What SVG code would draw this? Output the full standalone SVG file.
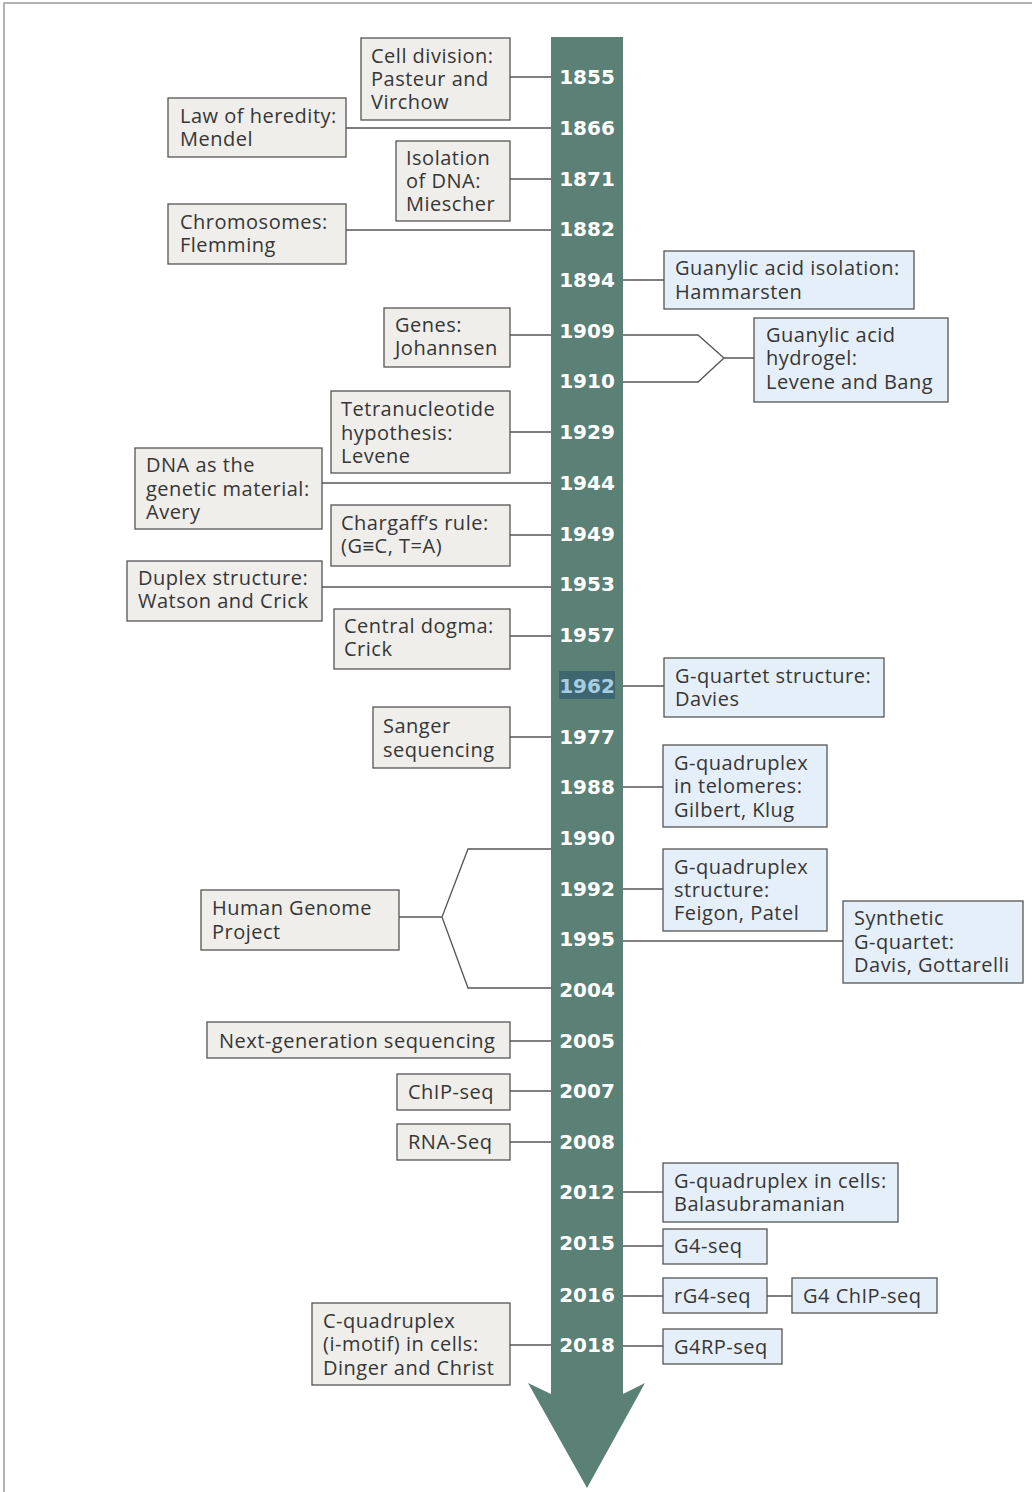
<svg xmlns="http://www.w3.org/2000/svg" width="1032" height="1492" viewBox="0 0 1032 1492">
<style>
.bg{fill:#ffffff}
.frame{fill:none;stroke:#9a9a9a;stroke-width:1.5}
.bar{fill:#5b8075}
.yr{font-family:"DejaVu Sans",sans-serif;font-weight:bold;font-size:20px;fill:#ffffff;text-anchor:middle}
.l{fill:#efeeeb;stroke:#555;stroke-width:1.3}
.r{fill:#e5eff9;stroke:#555;stroke-width:1.3}
.t{font-family:"Open Sans","Noto Sans",sans-serif;font-size:20px;letter-spacing:0.5px;fill:#363636}
.c{fill:none;stroke:#555;stroke-width:1.3}
</style>
<rect class="bg" x="0" y="0" width="1032" height="1492"/>
<path class="frame" d="M4,1492 V3 H1032"/>
<g id="timeline">
<path class="bar" d="M551,37 H623 V1394 L645,1383 L587,1488 L528,1383 L551,1394 Z"/>
<rect x="559" y="671" width="56" height="28" fill="#3e6670"/>
<g class="yr">
<text x="587" y="84">1855</text>
<text x="587" y="135">1866</text>
<text x="587" y="186">1871</text>
<text x="587" y="236">1882</text>
<text x="587" y="287">1894</text>
<text x="587" y="338">1909</text>
<text x="587" y="388">1910</text>
<text x="587" y="439">1929</text>
<text x="587" y="490">1944</text>
<text x="587" y="541">1949</text>
<text x="587" y="591">1953</text>
<text x="587" y="642">1957</text>
<text x="587" y="693" fill="#a8cde0">1962</text>
<text x="587" y="744">1977</text>
<text x="587" y="794">1988</text>
<text x="587" y="845">1990</text>
<text x="587" y="896">1992</text>
<text x="587" y="946">1995</text>
<text x="587" y="997">2004</text>
<text x="587" y="1048">2005</text>
<text x="587" y="1098">2007</text>
<text x="587" y="1149">2008</text>
<text x="587" y="1199">2012</text>
<text x="587" y="1250">2015</text>
<text x="587" y="1302">2016</text>
<text x="587" y="1352">2018</text>
</g>
</g>
<g id="connectors">
<path class="c" d="M510,77 H551"/>
<path class="c" d="M346,128 H551"/>
<path class="c" d="M510,179 H551"/>
<path class="c" d="M346,230 H551"/>
<path class="c" d="M623,280 H664"/>
<path class="c" d="M510,335 H551"/>
<path class="c" d="M623,335 H698 L724,358 L698,382 H623 M724,358 H754"/>
<path class="c" d="M510,432 H551"/>
<path class="c" d="M322,483 H551"/>
<path class="c" d="M510,535 H551"/>
<path class="c" d="M322,587 H551"/>
<path class="c" d="M510,636 H551"/>
<path class="c" d="M623,686 H664"/>
<path class="c" d="M510,737 H551"/>
<path class="c" d="M623,787 H663"/>
<path class="c" d="M551,849 H468 L442,917 L468,988 H551 M442,917 H399"/>
<path class="c" d="M623,889 H663"/>
<path class="c" d="M623,941 H843"/>
<path class="c" d="M510,1041 H551"/>
<path class="c" d="M510,1091 H551"/>
<path class="c" d="M510,1142 H551"/>
<path class="c" d="M623,1192 H663"/>
<path class="c" d="M623,1246 H663"/>
<path class="c" d="M623,1296 H663 M767,1296 H792"/>
<path class="c" d="M510,1345 H551"/>
<path class="c" d="M623,1346 H663"/>
</g>
<g id="n-celldivision"><rect class="l" x="361" y="38" width="149" height="82"/><text class="t"><tspan x="371" y="63">Cell division:</tspan><tspan x="371" y="86">Pasteur and</tspan><tspan x="371" y="109">Virchow</tspan></text></g>
<g id="n-heredity"><rect class="l" x="168" y="98" width="178" height="59"/><text class="t"><tspan x="180" y="123">Law of heredity:</tspan><tspan x="180" y="146">Mendel</tspan></text></g>
<g id="n-isolation"><rect class="l" x="396" y="141" width="114" height="80"/><text class="t"><tspan x="406" y="165">Isolation</tspan><tspan x="406" y="188">of DNA:</tspan><tspan x="406" y="211">Miescher</tspan></text></g>
<g id="n-chromosomes"><rect class="l" x="168" y="204" width="178" height="60"/><text class="t"><tspan x="180" y="229">Chromosomes:</tspan><tspan x="180" y="252">Flemming</tspan></text></g>
<g id="n-guanylic"><rect class="r" x="664" y="251" width="250" height="58"/><text class="t"><tspan x="675" y="275">Guanylic acid isolation:</tspan><tspan x="675" y="299">Hammarsten</tspan></text></g>
<g id="n-genes"><rect class="l" x="384" y="308" width="126" height="59"/><text class="t"><tspan x="395" y="332">Genes:</tspan><tspan x="395" y="355">Johannsen</tspan></text></g>
<g id="n-hydrogel"><rect class="r" x="754" y="318" width="194" height="84"/><text class="t"><tspan x="766" y="342">Guanylic acid</tspan><tspan x="766" y="365">hydrogel:</tspan><tspan x="766" y="389">Levene and Bang</tspan></text></g>
<g id="n-tetra"><rect class="l" x="331" y="391" width="179" height="82"/><text class="t"><tspan x="341" y="416">Tetranucleotide</tspan><tspan x="341" y="440">hypothesis:</tspan><tspan x="341" y="463">Levene</tspan></text></g>
<g id="n-avery"><rect class="l" x="135" y="448" width="187" height="81"/><text class="t"><tspan x="146" y="472">DNA as the</tspan><tspan x="146" y="496">genetic material:</tspan><tspan x="146" y="519">Avery</tspan></text></g>
<g id="n-chargaff"><rect class="l" x="331" y="505" width="179" height="61"/><text class="t"><tspan x="341" y="530">Chargaff’s rule:</tspan><tspan x="341" y="553">(G≡C, T=A)</tspan></text></g>
<g id="n-duplex"><rect class="l" x="127" y="561" width="195" height="60"/><text class="t"><tspan x="138" y="585">Duplex structure:</tspan><tspan x="138" y="608">Watson and Crick</tspan></text></g>
<g id="n-dogma"><rect class="l" x="334" y="609" width="176" height="60"/><text class="t"><tspan x="344" y="633">Central dogma:</tspan><tspan x="344" y="656">Crick</tspan></text></g>
<g id="n-gquartet"><rect class="r" x="664" y="658" width="220" height="59"/><text class="t"><tspan x="675" y="683">G-quartet structure:</tspan><tspan x="675" y="706">Davies</tspan></text></g>
<g id="n-sanger"><rect class="l" x="373" y="707" width="137" height="61"/><text class="t"><tspan x="383" y="733">Sanger</tspan><tspan x="383" y="757">sequencing</tspan></text></g>
<g id="n-telomeres"><rect class="r" x="663" y="745" width="164" height="82"/><text class="t"><tspan x="674" y="770">G-quadruplex</tspan><tspan x="674" y="793">in telomeres:</tspan><tspan x="674" y="817">Gilbert, Klug</tspan></text></g>
<g id="n-gqstructure"><rect class="r" x="663" y="849" width="164" height="82"/><text class="t"><tspan x="674" y="874">G-quadruplex</tspan><tspan x="674" y="897">structure:</tspan><tspan x="674" y="920">Feigon, Patel</tspan></text></g>
<g id="n-hgp"><rect class="l" x="201" y="890" width="198" height="60"/><text class="t"><tspan x="212" y="915">Human Genome</tspan><tspan x="212" y="939">Project</tspan></text></g>
<g id="n-synthetic"><rect class="r" x="843" y="901" width="180" height="82"/><text class="t"><tspan x="854" y="925">Synthetic</tspan><tspan x="854" y="949">G-quartet:</tspan><tspan x="854" y="972">Davis, Gottarelli</tspan></text></g>
<g id="n-ngs"><rect class="l" x="207" y="1022" width="303" height="36"/><text class="t" x="219" y="1048">Next-generation sequencing</text></g>
<g id="n-chipseq"><rect class="l" x="397" y="1074" width="113" height="36"/><text class="t" x="408" y="1099">ChIP-seq</text></g>
<g id="n-rnaseq"><rect class="l" x="397" y="1124" width="113" height="36"/><text class="t" x="408" y="1149">RNA-Seq</text></g>
<g id="n-gqcells"><rect class="r" x="663" y="1163" width="235" height="59"/><text class="t"><tspan x="674" y="1188">G-quadruplex in cells:</tspan><tspan x="674" y="1211">Balasubramanian</tspan></text></g>
<g id="n-g4seq"><rect class="r" x="663" y="1229" width="104" height="35"/><text class="t" x="674" y="1253">G4-seq</text></g>
<g id="n-rg4seq"><rect class="r" x="663" y="1278" width="104" height="35"/><text class="t" x="674" y="1303">rG4-seq</text></g>
<g id="n-g4chip"><rect class="r" x="792" y="1278" width="145" height="35"/><text class="t" x="803" y="1303">G4 ChIP-seq</text></g>
<g id="n-imotif"><rect class="l" x="312" y="1303" width="198" height="82"/><text class="t"><tspan x="323" y="1328">C-quadruplex</tspan><tspan x="323" y="1351">(i-motif) in cells:</tspan><tspan x="323" y="1375">Dinger and Christ</tspan></text></g>
<g id="n-g4rp"><rect class="r" x="663" y="1329" width="119" height="35"/><text class="t" x="674" y="1354">G4RP-seq</text></g>
</svg>
